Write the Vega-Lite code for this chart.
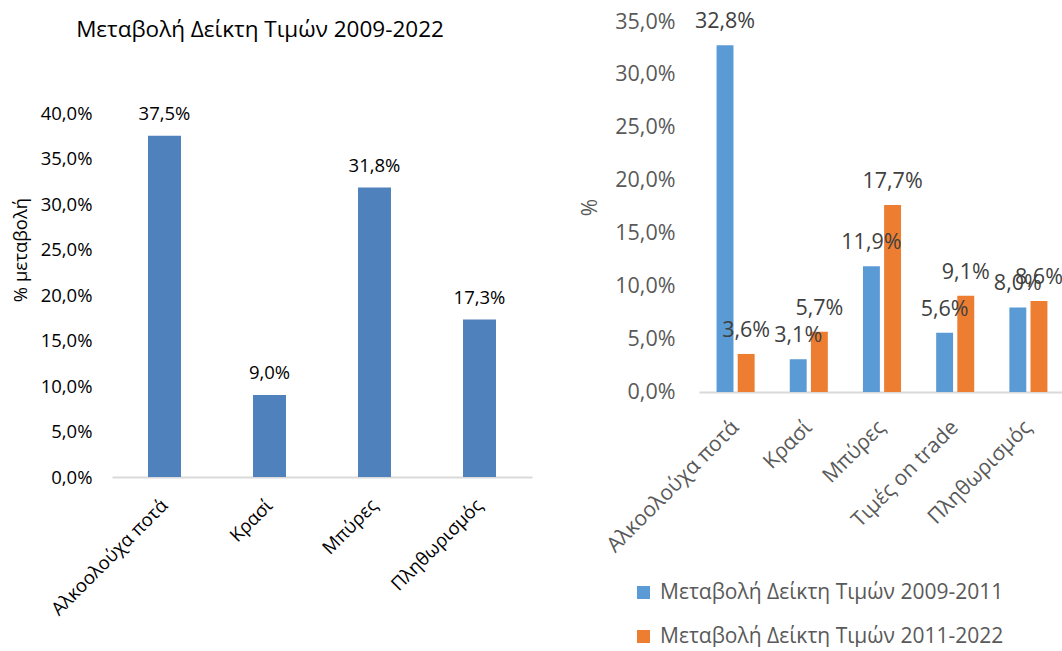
{
  "$schema": "https://vega.github.io/schema/vega-lite/v6.json",
  "padding": {"left": 11, "top": 11, "right": 0, "bottom": 0},
  "config": {
    "locale": {"number": {"decimal": ",", "thousands": ".", "grouping": [3], "currency": ["", " €"]}},
    "view": {"stroke": null},
    "font": "Open Sans",
    "axis": {"grid": false, "ticks": false}
  },
  "datasets": {
    "left": [
      {"category": "Αλκοολούχα ποτά", "change": 0.375},
      {"category": "Κρασί", "change": 0.09},
      {"category": "Μπύρες", "change": 0.318},
      {"category": "Πληθωρισμός", "change": 0.173}
    ],
    "right": [
      {"category": "Αλκοολούχα ποτά", "period": "Μεταβολή Δείκτη Τιμών 2009-2011", "change": 0.328},
      {"category": "Αλκοολούχα ποτά", "period": "Μεταβολή Δείκτη Τιμών 2011-2022", "change": 0.036},
      {"category": "Κρασί", "period": "Μεταβολή Δείκτη Τιμών 2009-2011", "change": 0.031},
      {"category": "Κρασί", "period": "Μεταβολή Δείκτη Τιμών 2011-2022", "change": 0.057},
      {"category": "Μπύρες", "period": "Μεταβολή Δείκτη Τιμών 2009-2011", "change": 0.119},
      {"category": "Μπύρες", "period": "Μεταβολή Δείκτη Τιμών 2011-2022", "change": 0.177},
      {"category": "Τιμές on trade", "period": "Μεταβολή Δείκτη Τιμών 2009-2011", "change": 0.056},
      {"category": "Τιμές on trade", "period": "Μεταβολή Δείκτη Τιμών 2011-2022", "change": 0.091},
      {"category": "Πληθωρισμός", "period": "Μεταβολή Δείκτη Τιμών 2009-2011", "change": 0.080},
      {"category": "Πληθωρισμός", "period": "Μεταβολή Δείκτη Τιμών 2011-2022", "change": 0.086}
    ]
  },
  "spacing": 47,
  "resolve": {"legend": {"color": "independent"}},
  "hconcat": [
    {
      "data": {"name": "left"},
      "width": 420,
      "height": 455,
      "title": {
        "text": "Μεταβολή Δείκτη Τιμών 2009-2022",
        "fontSize": 22.5,
        "fontWeight": "normal",
        "color": "#000000",
        "anchor": "middle",
        "dx": -62,
        "offset": -19
      },
      "encoding": {
        "x": {
          "field": "category", "type": "nominal", "sort": null,
          "scale": {"paddingInner": 0.686, "paddingOuter": 0.343},
          "axis": {
            "title": null, "labelAngle": -45, "labelAlign": "right", "labelBaseline": "middle",
            "labelFontSize": 18.5, "labelColor": "#000000",
            "labelPadding": 25, "domainColor": "#d9d9d9", "domainWidth": 2
          }
        },
        "y": {
          "field": "change", "type": "quantitative",
          "scale": {"domain": [0, 0.5]},
          "axis": {
            "values": [0, 0.05, 0.1, 0.15, 0.2, 0.25, 0.3, 0.35, 0.4],
            "format": ".1%", "domain": false,
            "labelFontSize": 18.5, "labelColor": "#000000", "labelPadding": 20,
            "title": "% μεταβολή", "titleFontSize": 18.5, "titleFontWeight": "normal",
            "titleColor": "#000000", "titlePadding": 10
          }
        }
      },
      "layer": [
        {"mark": {"type": "bar", "color": "#4F81BD"}},
        {
          "mark": {"type": "text", "baseline": "bottom", "dy": -12, "fontSize": 18.5, "color": "#000000"},
          "encoding": {"text": {"field": "change", "type": "quantitative", "format": ".1%"}}
        }
      ]
    },
    {
      "data": {"name": "right"},
      "width": 366,
      "height": 370,
      "encoding": {
        "x": {
          "field": "category", "type": "nominal", "sort": null,
          "scale": {"paddingInner": 0.48, "paddingOuter": 0.24},
          "axis": {
            "title": null, "labelAngle": -45, "labelAlign": "right", "labelBaseline": "middle",
            "labelFontSize": 21, "labelColor": "#595959",
            "labelPadding": 32, "domainColor": "#d9d9d9", "domainWidth": 2
          }
        },
        "xOffset": {
          "field": "period", "type": "nominal", "sort": null,
          "scale": {"paddingInner": 0.2, "paddingOuter": 0}
        },
        "y": {
          "field": "change", "type": "quantitative",
          "scale": {"domain": [0, 0.35]},
          "axis": {
            "values": [0, 0.05, 0.1, 0.15, 0.2, 0.25, 0.3, 0.35],
            "format": ".1%", "domain": false,
            "labelFontSize": 21.5, "labelColor": "#595959", "labelPadding": 24,
            "title": "%", "titleFontSize": 21, "titleFontWeight": "normal",
            "titleColor": "#595959", "titlePadding": 14
          }
        }
      },
      "layer": [
        {
          "mark": {"type": "bar"},
          "encoding": {
            "color": {
              "field": "period", "type": "nominal", "sort": null,
              "scale": {"range": ["#5B9BD5", "#ED7D31"]},
              "legend": {
                "title": null, "orient": "none", "legendX": -66, "legendY": 560,
                "direction": "vertical", "symbolType": "square", "symbolSize": 169,
                "symbolStrokeWidth": 0, "labelFontSize": 21, "labelColor": "#595959",
                "labelOffset": 6, "rowPadding": 22, "labelLimit": 500
              }
            }
          }
        },
        {
          "mark": {"type": "text", "baseline": "bottom", "dy": -12, "fontSize": 21.5, "color": "#404040"},
          "encoding": {"text": {"field": "change", "type": "quantitative", "format": ".1%"}}
        }
      ]
    }
  ]
}
